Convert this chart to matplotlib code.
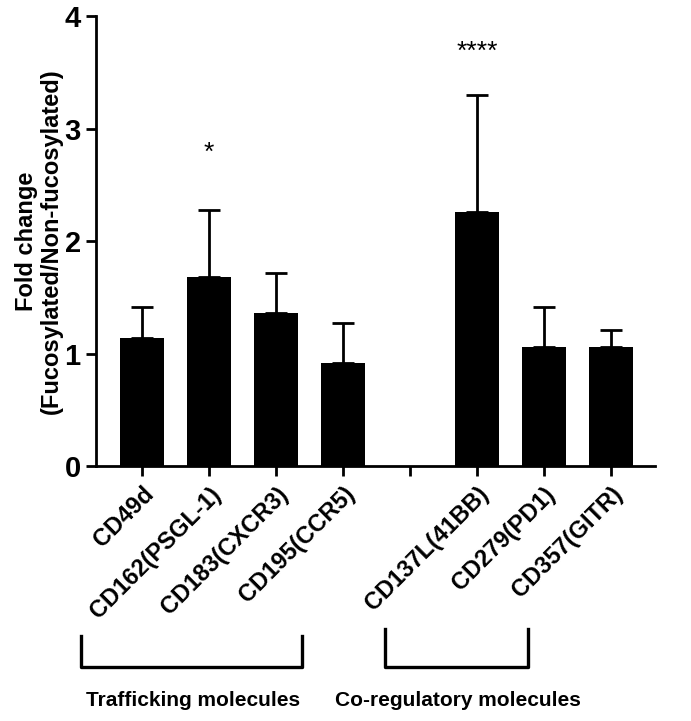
import matplotlib
matplotlib.use("Agg")
import matplotlib.pyplot as plt
import numpy as np
from matplotlib.lines import Line2D

# data
labels = ["CD49d", "CD162(PSGL-1)", "CD183(CXCR3)", "CD195(CCR5)",
          "", "CD137L(41BB)", "CD279(PD1)", "CD357(GITR)"]
means = [1.14, 1.68, 1.36, 0.92, np.nan, 2.26, 1.06, 1.06]
upper_err = [0.27, 0.60, 0.36, 0.35, np.nan, 1.04, 0.35, 0.15]
stars = {1: ("*", 2.78), 5: ("****", 3.68)}

plt.rcParams['font.family'] = ['Liberation Sans', 'DejaVu Sans']

fig = plt.figure(figsize=(6.91, 7.21), dpi=100)
W, H = 691, 721
ax = fig.add_axes([96 / W, 1 - 466 / H, (655 - 96) / W, (466 - 16) / H])

x = np.arange(len(labels))
valid = ~np.isnan(means)
ax.bar(x[valid], np.array(means)[valid], width=0.65, color='black', zorder=2)
ax.errorbar(x[valid], np.array(means)[valid],
            yerr=[np.zeros(valid.sum()), np.array(upper_err)[valid]],
            fmt='none', ecolor='black', elinewidth=2, capsize=8, capthick=2, zorder=1)

for i, (s, yv) in stars.items():
    ax.text(x[i], yv, s, ha='center', va='center', fontsize=19)

ax.set_xlim(-0.69, 7.66)
ax.set_ylim(0, 4)
ax.set_yticks([0, 1, 2, 3, 4])
ax.set_xticks(x)
ax.set_xticklabels(labels, rotation=45, ha='right', rotation_mode='anchor',
                   fontsize=17, fontweight='bold')
for lbl in ax.get_yticklabels():
    lbl.set_fontweight('bold')
    lbl.set_fontsize(21)
ax.tick_params(axis='both', width=2, length=7, direction='out')
ax.tick_params(axis='x', pad=5)
ax.tick_params(axis='y', pad=4)
for side in ['top', 'right']:
    ax.spines[side].set_visible(False)
for side in ['left', 'bottom']:
    ax.spines[side].set_linewidth(2)

ax.set_ylabel("Fold change\n(Fucosylated/Non-fucosylated)", fontsize=17,
              fontweight='bold', linespacing=1.1)
ax.yaxis.set_label_coords(-0.06, 0.5)

# group brackets (figure pixel coordinates)
def bracket(x0, x1, ytop, ybot):
    xs = np.array([x0, x0, x1, x1]) / W
    ys = 1 - np.array([ytop, ybot, ybot, ytop]) / H
    fig.add_artist(Line2D(xs, ys, color='black', lw=2.4))

bracket(81, 302, 636, 667)
bracket(385, 528, 629, 667)
fig.text(193 / W, 1 - 700 / H, "Trafficking molecules", ha='center', va='center',
         fontsize=15, fontweight='bold')
fig.text(458 / W, 1 - 700 / H, "Co-regulatory molecules", ha='center', va='center',
         fontsize=15, fontweight='bold')

fig.savefig("out.png", dpi=100)
